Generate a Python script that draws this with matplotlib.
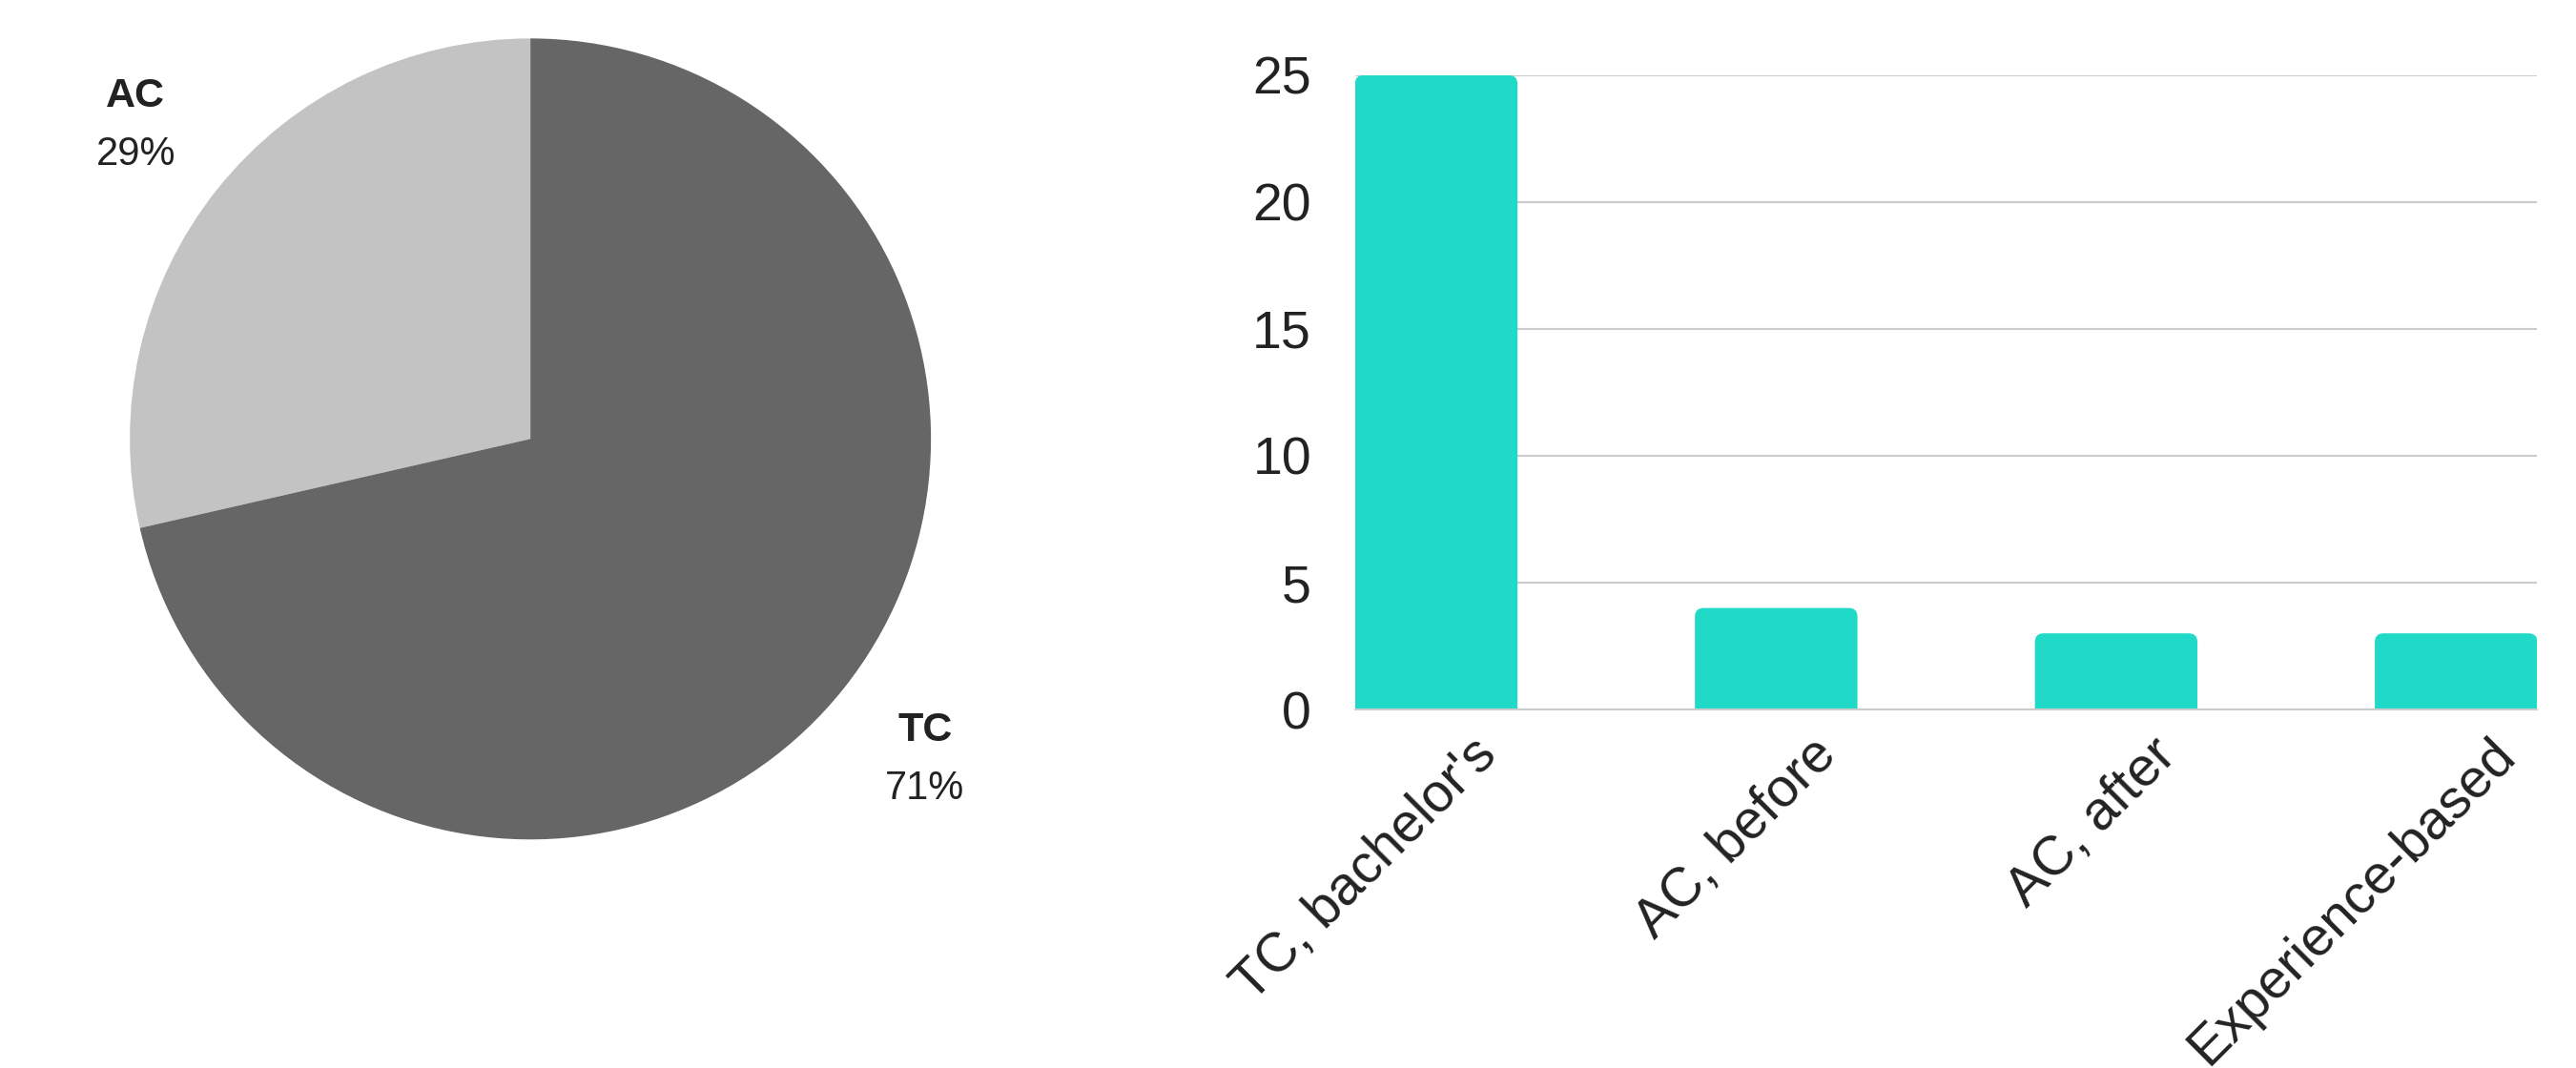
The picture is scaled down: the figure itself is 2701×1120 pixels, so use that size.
import matplotlib.pyplot as plt
import numpy as np
from matplotlib.transforms import ScaledTranslation
from matplotlib.patches import FancyBboxPatch

# pie data
pie_labels = ['AC', 'TC']
pie_values = [10, 25]
pie_colors = ['#c3c3c3', '#666666']

# bar data
bar_labels = ["TC, bachelor's", 'AC, before', 'AC, after', 'Experience-based']
bar_values = [25, 4, 3, 3]
bar_color = '#20d9c6'
yticks = [0, 5, 10, 15, 20, 25]

dpi = 100.
plt.rcParams.update({'font.family': ['Liberation Sans', 'DejaVu Sans'],
                     'figure.dpi': dpi,
                     'text.color': '#222222'})

fig = plt.figure(figsize=(2701/dpi, 1120/dpi))

# --- pie ---
ax1 = fig.add_axes([0.0504, 0.214, 0.311, 0.75])
wedges, _ = ax1.pie(pie_values, colors=pie_colors, startangle=90,
                    counterclock=True, radius=1.0)
ax1.set_xlim(-1, 1)
ax1.set_ylim(-1, 1)
ax1.set_aspect('equal')
total = sum(pie_values)
for w, lab, val in zip(wedges, pie_labels, pie_values):
    ang = np.deg2rad((w.theta1 + w.theta2) / 2)
    x, y = 1.26*np.cos(ang), 1.26*np.sin(ang)
    if y < 0:
        y -= 0.012
    ax1.text(x, y + 0.07, lab, ha='center', va='center', fontsize=31,
             fontweight='bold', color='#222222', clip_on=False)
    ax1.text(x, y - 0.075, f'{round(100*val/total)}%', ha='center',
             va='center', fontsize=30, color='#222222', clip_on=False)

# --- bars ---
ax2 = fig.add_axes([0.526, 0.3357, 0.459, 0.5938])
x = np.arange(len(bar_values))
bw = 0.478
bars = ax2.bar(x, bar_values, width=bw, color=bar_color, zorder=3)
ax2.set_xlim(-bw/2, len(bar_values) - 1 + bw/2)
ax2.set_ylim(0, 25)

# rounded tops: redraw each bar as a rounded box extending below the axis
bbox = ax2.get_window_extent()
px_x = (ax2.get_xlim()[1] - ax2.get_xlim()[0]) / bbox.width
px_y = (ax2.get_ylim()[1] - ax2.get_ylim()[0]) / bbox.height
r = 9 * px_x
for rect in bars:
    rect.set_visible(False)
    ax2.add_patch(FancyBboxPatch((rect.get_x(), -2), rect.get_width(),
                                 rect.get_height() + 2,
                                 boxstyle=f'round,pad=0,rounding_size={r}',
                                 mutation_aspect=px_y/px_x,
                                 facecolor=bar_color, edgecolor='none',
                                 zorder=3))

ax2.set_yticks(yticks)
ax2.yaxis.grid(True, color='#cccccc', linewidth=1.5, zorder=0)
ax2.set_axisbelow(True)
for s in ['left', 'right', 'top']:
    ax2.spines[s].set_visible(False)
ax2.spines['bottom'].set_color('#cccccc')
ax2.spines['bottom'].set_linewidth(1.5)
ax2.spines['bottom'].set_zorder(4)
ax2.tick_params(axis='y', length=0, pad=33, labelsize=40, labelcolor='#222222')
ax2.tick_params(axis='x', length=0, pad=28, labelsize=41, labelcolor='#222222')
ax2.set_xticks(x)
ax2.set_xticklabels(bar_labels, rotation=45, ha='right', va='center',
                    rotation_mode='anchor')
offset = ScaledTranslation(54/dpi, 0, fig.dpi_scale_trans)
for lab in ax2.get_xticklabels():
    lab.set_transform(lab.get_transform() + offset)

fig.savefig('out.png', dpi=dpi)
